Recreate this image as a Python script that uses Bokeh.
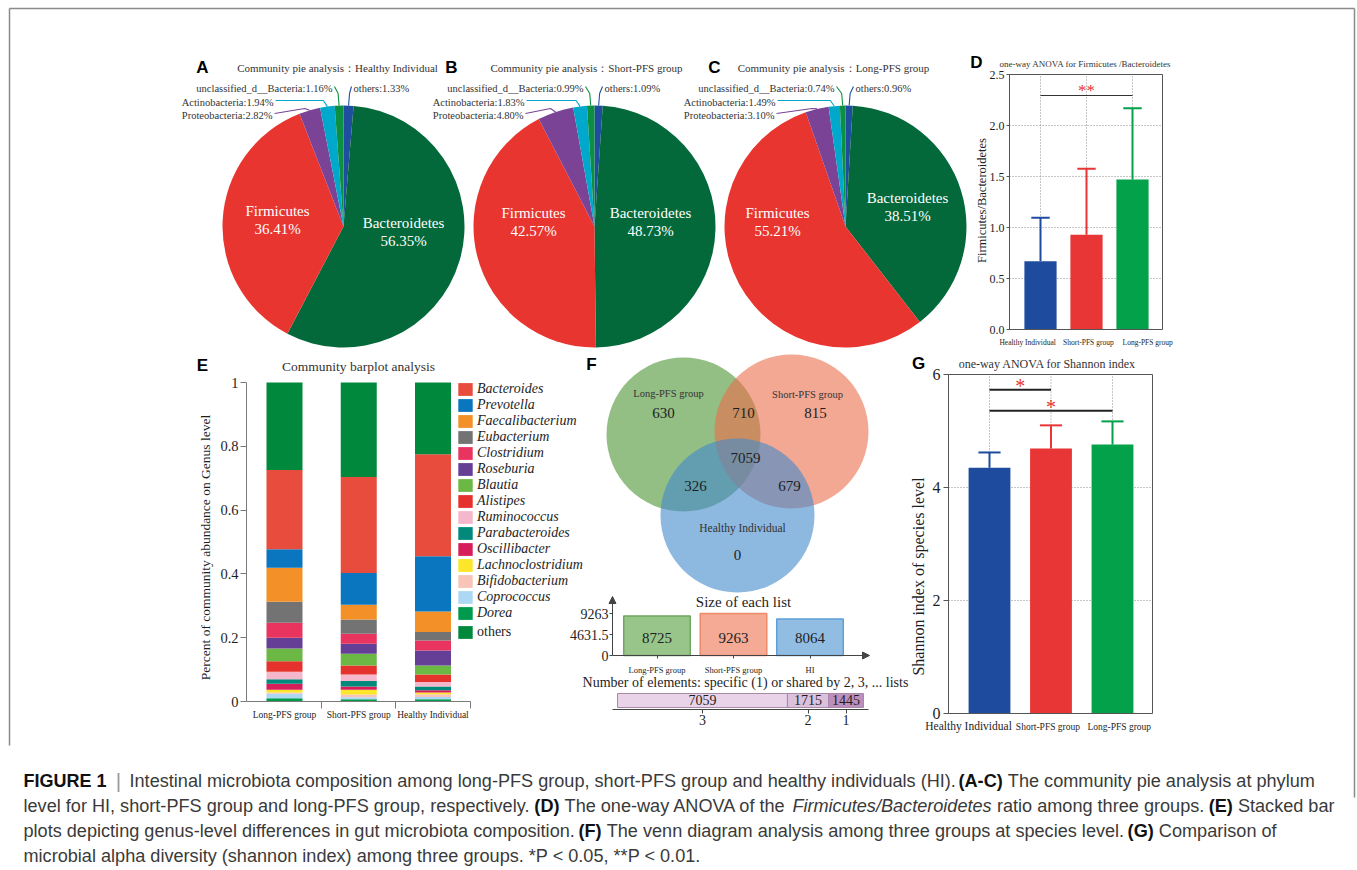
import math
from bokeh.plotting import figure
from bokeh.models import (Range1d, LinearAxis, FixedTicker, Legend, LegendItem,
                          ColumnDataSource, Arrow, NormalHead)
from bokeh.core.properties import value
from bokeh.embed import file_html
from bokeh.resources import INLINE

# ---------------- DATA ----------------
phyla = ["others", "Bacteroidetes", "Firmicutes", "Proteobacteria", "Actinobacteria",
         "unclassified_d__Bacteria"]
pie_hi_pct = [1.33, 56.35, 36.41, 2.82, 1.94, 1.16]
pie_short_pct = [1.09, 48.73, 42.57, 4.80, 1.83, 0.99]
pie_long_pct = [0.96, 38.51, 55.21, 3.10, 1.49, 0.74]
pie_titles = ["Community pie analysis\uff1aHealthy Individual",
              "Community pie analysis\uff1aShort-PFS group",
              "Community pie analysis\uff1aLong-PFS group"]

fb_groups = ["Healthy Individual", "Short-PFS group", "Long-PFS group"]
fb_mean = [0.67, 0.93, 1.47]
fb_sd = [0.425, 0.645, 0.70]

genera = ["Bacteroides", "Prevotella", "Faecalibacterium", "Eubacterium", "Clostridium",
          "Roseburia", "Blautia", "Alistipes", "Ruminococcus", "Parabacteroides",
          "Oscillibacter", "Lachnoclostridium", "Bifidobacterium", "Coprococcus", "Dorea", "others"]
bar_groups = ["Long-PFS group", "Short-PFS group", "Healthy Individual"]
long_abund = [0.249, 0.058, 0.106, 0.066, 0.047, 0.034, 0.040, 0.033, 0.023, 0.014,
              0.019, 0.009, 0.004, 0.014, 0.010, 0.274]
short_abund = [0.301, 0.100, 0.046, 0.045, 0.031, 0.031, 0.037, 0.028, 0.021, 0.017,
               0.010, 0.015, 0.009, 0.006, 0.007, 0.296]
hi_abund = [0.320, 0.173, 0.064, 0.027, 0.031, 0.047, 0.028, 0.024, 0.014, 0.012,
            0.007, 0.005, 0.009, 0.007, 0.007, 0.225]

venn_sets = ["Long-PFS group", "Short-PFS group", "Healthy Individual"]
venn_regions = ["Long only", "Long & Short", "Short only", "all three", "Long & HI", "Short & HI", "HI only"]
venn_counts = [630, 710, 815, 7059, 326, 679, 0]
list_names = ["Long-PFS group", "Short-PFS group", "HI"]
list_sizes = [8725, 9263, 8064]
shared_by = ["3", "2", "1"]
shared_counts = [7059, 1715, 1445]

shannon_groups = ["Healthy Individual", "Short-PFS group", "Long-PFS group"]
shannon_mean = [4.35, 4.69, 4.76]
shannon_sd = [0.27, 0.41, 0.41]

# ---------------- STYLE ----------------
W, H = 1357, 870
L0, T0 = 0, 0
SERIF = "Liberation Serif"
SANS = "Liberation Sans"
INK = "#1e1e1e"
pie_colors = ["#1f4e9f", "#03693a", "#e8352f", "#7a4396", "#00a9cb", "#0c8f40"]
grp_colors = ["#1f4b9e", "#e83536", "#02a14a"]
genus_colors = ["#e84c3d", "#0a76c0", "#f39128", "#737373", "#e8345f", "#653e96", "#6bb845",
                "#e5322d", "#f5b7cc", "#018a7b", "#d61e5a", "#fbe62a", "#f8c4b8", "#acd8f4",
                "#009a4c", "#00893d"]

p = figure(width=W, height=H, x_range=Range1d(L0, L0 + W), y_range=Range1d(-(T0 + H), -T0),
           x_axis_type=None, y_axis_type=None, toolbar_location=None, output_backend="svg",
           min_border=0, outline_line_color=None, background_fill_color="white",
           border_fill_color="white")

XR, YR = {}, {}


def panel(name, X0, kx, Y0=None, ky=None):
    XR[name] = Range1d(start=(L0 - X0) / kx, end=(L0 + W - X0) / kx)
    fx = lambda X: (X - X0) / kx
    fy = None
    if Y0 is not None:
        YR[name] = Range1d(start=(Y0 - T0 - H) / ky, end=(Y0 - T0) / ky)
        fy = lambda Yp: (Y0 - Yp) / ky
    return fx, fy


def txt(x, y, s, size, font=SERIF, color=INK, align="center", baseline="middle",
        style="normal", angle=0.0, rn=None):
    kw = {}
    yy = -y
    if rn is not None:
        kw = dict(x_range_name=rn, y_range_name=rn)
        yy = y
    p.text(x=[x], y=[yy], text=[s], text_font=value(font), text_font_size=f"{size}px",
           text_color=color, text_align=align, text_baseline=baseline,
           text_font_style=style, angle=angle, **kw)


def style_axis(ax, size, color, tick_out, standoff, line, lw=1.0, lcolor=INK):
    ax.major_label_text_font = SERIF
    ax.major_label_text_font_size = f"{size}px"
    ax.major_label_text_color = lcolor
    ax.axis_line_color = color if line else None
    ax.axis_line_width = lw
    ax.major_tick_line_color = color if tick_out > 0 else None
    ax.major_tick_line_width = lw
    ax.major_tick_out = tick_out
    ax.major_tick_in = 0
    ax.minor_tick_line_color = None
    ax.major_label_standoff = standoff


def yaxis(rn, X, bounds, ticks, labels, size, color="#555", tick_out=5, standoff=3, line=True, lw=1.0):
    ax = LinearAxis(y_range_name=rn, fixed_location=X, bounds=bounds,
                    ticker=FixedTicker(ticks=ticks),
                    major_label_overrides=dict(zip(ticks, labels)))
    style_axis(ax, size, color, tick_out, standoff, line, lw)
    p.add_layout(ax, "left")


def xaxis(rn, Y, bounds, ticks, labels, size, color="#555", tick_out=0, standoff=6, line=True,
          lw=1.0, lcolor=INK):
    ax = LinearAxis(x_range_name=rn, fixed_location=-Y, bounds=bounds,
                    ticker=FixedTicker(ticks=ticks),
                    major_label_overrides=dict(zip(ticks, labels)))
    style_axis(ax, size, color, tick_out, standoff, line, lw, lcolor)
    p.add_layout(ax, "below")


# ---------------- outer frame ----------------
p.segment(x0=[9, 9, 1354], y0=[-8, -8, -8], x1=[1354, 9, 1354], y1=[-8, -745, -797],
          line_color="#8a8a8a", line_width=1.5)

# ---------------- A-C pies ----------------
pie_vals = [pie_hi_pct, pie_short_pct, pie_long_pct]
pie_cx = [343, 594, 845]
pie_cy = 226
R = 121
letters = ["A", "B", "C"]
letter_x = [202, 451, 714]
title_x = [337, 586, 833]
inner = [(-66, -16, 60, -4), (-61, -14, 56, -14), (-68, -14, 62, -29)]
outer = {5: dict(tx=-11, ty=88, align="right", ax=-9, ay=86, edx=-1, ey=93),
         0: dict(tx=10, ty=88, align="left", ax=8, ay=86, edx=1, ey=93),
         4: dict(tx=-70, ty=102, align="right", ax=-68, ay=100, edx=-4, ey=100),
         3: dict(tx=-71, ty=115, align="right", ax=-69, ay=113, edx=-5, ey=108)}

for k in range(3):
    vals = pie_vals[k]
    cx = pie_cx[k]
    tot = sum(vals)
    starts, ends, mids = [], [], []
    cum = 0.0
    for v in vals:
        a0 = math.pi / 2 - 2 * math.pi * cum / tot
        cum += v
        a1 = math.pi / 2 - 2 * math.pi * cum / tot
        starts.append(a0)
        ends.append(a1)
        mids.append((a0 + a1) / 2)
    src = ColumnDataSource(dict(start=starts, end=ends, color=pie_colors, name=phyla, pct=vals))
    p.wedge(x=cx, y=-pie_cy, radius=R, start_angle="start", end_angle="end", direction="clock",
            fill_color="color", line_color=None, source=src)
    dxF, dyF, dxB, dyB = inner[k]
    txt(cx + dxF, pie_cy + dyF, phyla[2], 15, color="white")
    txt(cx + dxF, pie_cy + dyF + 18, f"{vals[2]:.2f}%", 15, color="white")
    txt(cx + dxB, pie_cy + dyB, phyla[1], 15, color="white")
    txt(cx + dxB, pie_cy + dyB + 18, f"{vals[1]:.2f}%", 15, color="white")
    for idx, o in outer.items():
        xr = cx + R * math.cos(mids[idx])
        yr = pie_cy - R * math.sin(mids[idx])
        p.line(x=[xr, xr + o["edx"], cx + o["ax"]], y=[-yr, -o["ey"], -o["ay"]],
               line_color=pie_colors[idx], line_width=1.1)
        txt(cx + o["tx"], o["ty"], f"{phyla[idx]}:{vals[idx]:.2f}%", 10.5, color="#333",
            align=o["align"])
    txt(title_x[k], 67, pie_titles[k], 11, color="#333")
    txt(letter_x[k], 67, letters[k], 17, font=SANS, style="bold", color="black")

# ---------------- D: F/B ratio ----------------
fxd, fyd = panel("d", 1040, 46, 329, 102)
dl, dr = fxd(1009), fxd(1162)
p.segment(x0=[dl] * 4, x1=[dr] * 4, y0=[0.5, 1.0, 1.5, 2.0], y1=[0.5, 1.0, 1.5, 2.0],
          line_color="#8a8a8a", line_dash="1 2", line_width=1, x_range_name="d", y_range_name="d")
p.segment(x0=[0, 1, 2], x1=[0, 1, 2], y0=[0] * 3, y1=[2.5] * 3,
          line_color="#8a8a8a", line_dash="1 2", line_width=1, x_range_name="d", y_range_name="d")
src_d = ColumnDataSource(dict(x=[0, 1, 2], top=fb_mean, up=[m + s for m, s in zip(fb_mean, fb_sd)],
                              cl=[i - 0.2 for i in range(3)], cr=[i + 0.2 for i in range(3)],
                              color=grp_colors, group=fb_groups))
p.segment(x0="x", x1="x", y0="top", y1="up", line_color="color", line_width=2, source=src_d,
          x_range_name="d", y_range_name="d")
p.vbar(x="x", top="top", bottom=0, width=0.7, fill_color="color", line_color=None, source=src_d,
       x_range_name="d", y_range_name="d")
p.segment(x0="cl", x1="cr", y0="up", y1="up", line_color="color", line_width=2, source=src_d,
          x_range_name="d", y_range_name="d")
p.quad(left=dl, right=dr, bottom=0, top=2.5, fill_color=None, line_color="#555", line_width=1,
       x_range_name="d", y_range_name="d")
p.line(x=[0, 2], y=[2.294, 2.294], line_color="#333", line_width=1.2, x_range_name="d", y_range_name="d")
txt(1, 2.34, "**", 17, color="#e8352f", rn="d")
yaxis("d", 1009, (0, 2.5), [0, 0.5, 1.0, 1.5, 2.0, 2.5], ["0.0", "0.5", "1.0", "1.5", "2.0", "2.5"],
      12, tick_out=3, standoff=2)
# tick labels sit slightly off the bar centres in the reference (to avoid overlap)
xaxis("d", 329, (dl, dr), [-0.28, 1.04, 2.33], fb_groups, 7.5, standoff=8, line=False)
txt(981, 200, "Firmicutes/Bacteroidetes", 12.5, angle=math.pi / 2)
txt(1085, 63, "one-way ANOVA for Firmicutes /Bacteroidetes", 9, color="#333")
txt(976, 62, "D", 17, font=SANS, style="bold", color="black")

# ---------------- E: stacked genus barplot ----------------
fxe, fye = panel("e", 284, 74.25, 701, 319)
stack_names = genera[:15][::-1] + ["others"]
stack_colors = genus_colors[:15][::-1] + [genus_colors[15]]
edata = dict(x=[0, 1, 2], group=bar_groups)
for i, g in enumerate(genera):
    edata[g] = [long_abund[i], short_abund[i], hi_abund[i]]
src_e = ColumnDataSource(edata)
rends = p.vbar_stack(stack_names, x="x", width=0.485, fill_color=stack_colors, line_color=None,
                     source=src_e, x_range_name="e", y_range_name="e")
rmap = dict(zip(stack_names, rends))
yaxis("e", 246, (0, 1), [0, 0.2, 0.4, 0.6, 0.8, 1], ["0", "0.2", "0.4", "0.6", "0.8", "1"], 14.5,
      color="#7a7a7a", tick_out=6, standoff=2)
xaxis("e", 701, (fxe(246), 2.5), [0, 1, 2], bar_groups, 9.5, color="#7a7a7a", standoff=8)
xaxis("e", 701, (0.5, 2.5), [0.5, 1.5, 2.5], ["", "", ""], 1, color="#7a7a7a", tick_out=7,
      standoff=0, line=False)
leg_common = dict(orientation="vertical", glyph_width=18, glyph_height=16, label_height=16,
                  spacing=0, padding=0, margin=0, border_line_color=None, background_fill_alpha=0,
                  label_text_font=SERIF, label_text_font_size="14px", label_standoff=3,
                  label_text_color=INK)
leg1 = Legend(items=[LegendItem(label=g, renderers=[rmap[g]]) for g in genera[:15]],
              location=(456, 249), label_text_font_style="italic", **leg_common)
leg2 = Legend(items=[LegendItem(label="others", renderers=[rmap["others"]])],
              location=(456, 230), label_text_font_style="normal", **leg_common)
p.add_layout(leg1)
p.add_layout(leg2)
txt(205, 547, "Percent of community abundance on Genus level", 13.5, angle=math.pi / 2)
txt(358, 366, "Community barplot analysis", 13.5, color="#333")
txt(202, 365, "E", 17, font=SANS, style="bold", color="black")

# ---------------- F: venn + list sizes ----------------
venn_cx = [683, 791, 737]
venn_cy = [434, 431, 515]
p.circle(x=venn_cx, y=[-v for v in venn_cy], radius=77,
         fill_color=["#4b9434", "#eb6e4b", "#4189cb"], fill_alpha=0.6, line_color=None)
set_lab_pos = [(668, 393, 10.5), (807, 394, 10.5), (742, 527, 11.5)]
for name, (x, y, s) in zip(venn_sets, set_lab_pos):
    txt(x, y, name, s, color="#333")
region_pos = [(663, 412), (743, 412), (815, 412), (745, 457), (695, 485), (789, 485), (737, 554)]
for c, (x, y) in zip(venn_counts, region_pos):
    txt(x, y, str(c), 15)
txt(591, 364, "F", 17, font=SANS, style="bold", color="black")

fxs, fys = panel("fs", 656.5, 76.5, 655, 42.0 / 9263)
p.vbar(x=[0, 1, 2], top=list_sizes, bottom=0, width=0.87,
       fill_color=["#98c58a", "#f4aa94", "#91bde3"], line_color=["#6fa860", "#ee8a6b", "#5e9ed9"],
       line_width=1.5, x_range_name="fs", y_range_name="fs")
for i, v in enumerate(list_sizes):
    txt(i, 3900, str(v), 15, rn="fs")
yaxis("fs", 612, (0, fys(603)), [0, 4631.5, 9263], ["0", "4631.5", "9263"], 14, color="#444",
      tick_out=3, standoff=1)
xaxis("fs", 655, (fxs(612), fxs(862)), [0, 1, 2], list_names, 8.5, color="#444", tick_out=3,
      standoff=6)
p.add_layout(Arrow(end=NormalHead(size=7, fill_color="#444", line_color="#444"),
                   x_start=612, y_start=-606, x_end=612, y_end=-596, line_color="#444"))
p.add_layout(Arrow(end=NormalHead(size=7, fill_color="#444", line_color="#444"),
                   x_start=858, y_start=-655, x_end=869, y_end=-655, line_color="#444"))
txt(743, 601, "Size of each list", 15)
txt(745, 682, "Number of elements: specific (1) or shared by 2, 3, ... lists", 14)

fxc, _ = panel("fc", 617, 246.0 / 10219)
lefts, rights = [], []
acc = 0
for c in shared_counts:
    lefts.append(acc)
    acc += c
    rights.append(acc)
centers = [(a + b) / 2 for a, b in zip(lefts, rights)]
p.hbar(y=-700, left=lefts, right=rights, height=14, fill_color=["#e8d3e8", "#dcc1dc", "#bd8fbd"],
       line_color="#a88aa8", line_width=1, x_range_name="fc")
p.text(x=centers, y=[-699.5] * 3, text=[str(c) for c in shared_counts], text_font=value(SERIF),
       text_font_size="14px", text_color=INK, text_align="center", text_baseline="middle",
       x_range_name="fc")
xaxis("fc", 709, (fxc(612), fxc(868)), centers, shared_by, 14, color="#444", tick_out=4, standoff=1)

# ---------------- G: Shannon index ----------------
fxg, fyg = panel("g", 989, 61.5, 713, 56.5)
gl, gr = fxg(948), fxg(1152)
p.segment(x0=[gl] * 2, x1=[gr] * 2, y0=[2, 4], y1=[2, 4], line_color="#8a8a8a", line_dash="1 2",
          line_width=1, x_range_name="g", y_range_name="g")
p.segment(x0=[0, 1, 2], x1=[0, 1, 2], y0=[0] * 3, y1=[6] * 3, line_color="#8a8a8a",
          line_dash="1 2", line_width=1, x_range_name="g", y_range_name="g")
src_g = ColumnDataSource(dict(x=[0, 1, 2], top=shannon_mean,
                              up=[m + s for m, s in zip(shannon_mean, shannon_sd)],
                              cl=[i - 0.18 for i in range(3)], cr=[i + 0.18 for i in range(3)],
                              color=grp_colors, group=shannon_groups))
p.segment(x0="x", x1="x", y0="top", y1="up", line_color="color", line_width=2, source=src_g,
          x_range_name="g", y_range_name="g")
p.vbar(x="x", top="top", bottom=0, width=0.68, fill_color="color", line_color=None, source=src_g,
       x_range_name="g", y_range_name="g")
p.segment(x0="cl", x1="cr", y0="up", y1="up", line_color="color", line_width=2, source=src_g,
          x_range_name="g", y_range_name="g")
p.quad(left=gl, right=gr, bottom=0, top=6, fill_color=None, line_color="#555", line_width=1,
       x_range_name="g", y_range_name="g")
p.segment(x0=[0, 0], x1=[1, 2], y0=[5.73, 5.36], y1=[5.73, 5.36], line_color="#222", line_width=2,
          x_range_name="g", y_range_name="g")
txt(0.5, 5.80, "*", 20, color="#e8352f", rn="g")
txt(1.0, 5.43, "*", 20, color="#e8352f", rn="g")
yaxis("g", 948, (0, 6), [0, 2, 4, 6], ["0", "2", "4", "6"], 16, color="#555", tick_out=5,
      standoff=3)
xaxis("g", 713, (gl, gr), [-0.34], shannon_groups[:1], 11.5, standoff=6, line=False)
xaxis("g", 713, (gl, gr), [0.95, 2.11], shannon_groups[1:], 9.5, standoff=8, line=False)
txt(918, 576, "Shannon index of species level", 16, angle=math.pi / 2)
txt(1047, 363, "one-way ANOVA for Shannon index", 12, color="#333")
txt(918, 363, "G", 17, font=SANS, style="bold", color="black")

# ---------------- caption ----------------
REG = {' ': 278, '!': 278, '(': 333, ')': 333, '*': 389, ',': 278, '-': 333, '.': 278, '/': 278,
       ':': 278, '<': 584, '|': 260}
for ch in "0123456789":
    REG[ch] = 556
REG.update(dict(A=667, B=667, C=722, D=722, E=667, F=611, G=778, H=722, I=278, J=500, K=667,
                L=556, M=833, N=722, O=778, P=667, Q=778, R=722, S=667, T=611, U=722, V=667,
                W=944, X=667, Y=667, Z=611))
REG.update(dict(a=556, b=556, c=500, d=556, e=556, f=278, g=556, h=556, i=222, j=222, k=500,
                l=222, m=833, n=556, o=556, p=556, q=556, r=333, s=500, t=278, u=556, v=500,
                w=722, x=500, y=500, z=500))
BOLD = {' ': 278, '(': 333, ')': 333, '-': 333, 'A': 722, 'C': 722, 'D': 722, 'E': 667, 'F': 611,
        'G': 778, 'I': 278, 'R': 722, 'U': 722}
for ch in "0123456789":
    BOLD[ch] = 556


def em(s, bold=False):
    tab = BOLD if bold else REG
    return sum(tab.get(ch, REG.get(ch, 556)) for ch in s) / 1000.0


cap_lines = [
    [("Intestinal microbiota composition among long-PFS group, short-PFS group and healthy individuals (HI). ", "normal"),
     ("(A-C)", "bold"), (" The community pie analysis at phylum", "normal")],
    [("level for HI, short-PFS group and long-PFS group, respectively. ", "normal"), ("(D)", "bold"),
     (" The one-way ANOVA of the ", "normal"), ("Firmicutes/Bacteroidetes", "italic"),
     (" ratio among three groups. ", "normal"), ("(E)", "bold"), (" Stacked bar", "normal")],
    [("plots depicting genus-level differences in gut microbiota composition. ", "normal"),
     ("(F)", "bold"), (" The venn diagram analysis among three groups at species level. ", "normal"),
     ("(G)", "bold"), (" Comparison of", "normal")],
    [("microbial alpha diversity (shannon index) among three groups. *P < 0.05, **P < 0.01.", "normal")],
]
cap_x0 = [129, 23, 23, 23]
cap_y = [780, 805, 830, 855]
fs = (1318 - 129) / sum(em(s, st == "bold") for s, st in cap_lines[0])
segs = {"normal": ([], [], []), "bold": ([], [], []), "italic": ([], [], [])}
for line, x0, yy in zip(cap_lines, cap_x0, cap_y):
    x = x0
    for s, st in line:
        lead = len(s) - len(s.lstrip())
        xs, ys, ts = segs[st]
        xs.append(x + em(s[:lead], st == "bold") * fs)
        ys.append(-yy)
        ts.append(s.strip())
        x += em(s, st == "bold") * fs * (0.996 if st == "normal" else 1.0)
for st, (xs, ys, ts) in segs.items():
    p.text(x=xs, y=ys, text=ts, text_font=value(SANS), text_font_size=f"{fs:.2f}px",
           text_font_style=st, text_color="#111" if st == "bold" else "#3a3a3a",
           text_align="left", text_baseline="middle")
fsb = (106 - 23) / em("FIGURE 1", True)
txt(23, 780, "FIGURE 1", round(fsb, 2), font=SANS, style="bold", color="#111", align="left")
txt(118, 780, "|", round(fs * 1.15, 2), font=SANS, color="#9a9a9a")

p.extra_x_ranges = XR
p.extra_y_ranges = YR

open("out.html", "w").write(file_html(p, INLINE))
